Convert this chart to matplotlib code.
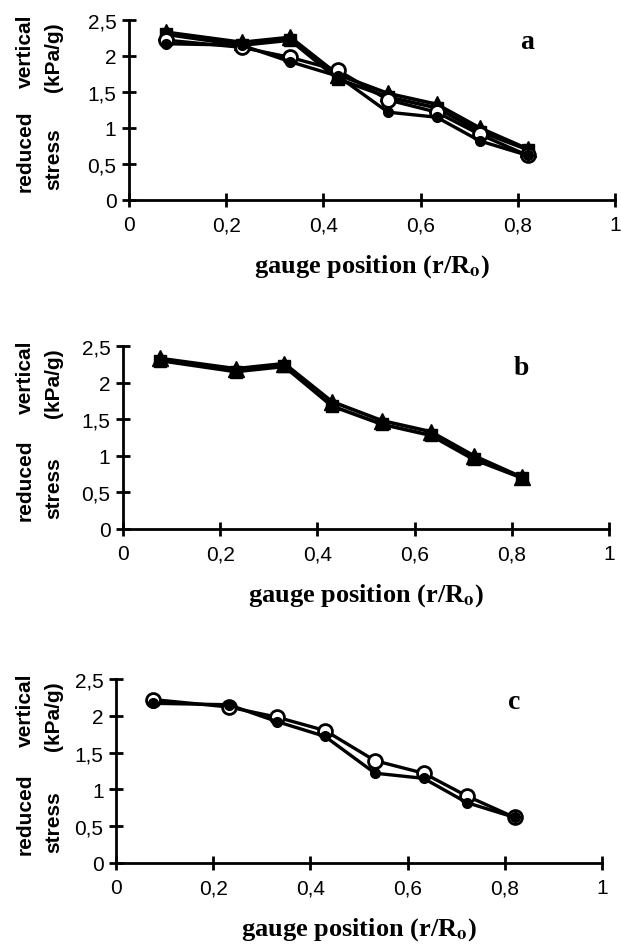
import matplotlib.pyplot as plt

# ゲージ位置 (r/Ro)
gauge_pos = [0.077, 0.232, 0.332, 0.430, 0.533, 0.633, 0.722, 0.820]

# 図b: 三角・四角の系列
stress_tri = [2.33, 2.19, 2.26, 1.74, 1.48, 1.33, 1.00, 0.71]
stress_sq = [2.30, 2.15, 2.22, 1.68, 1.43, 1.28, 0.95, 0.70]

# 図c: 白丸・黒丸の系列
stress_open = [2.22, 2.12, 1.98, 1.80, 1.39, 1.22, 0.91, 0.62]
stress_fill = [2.17, 2.15, 1.92, 1.72, 1.22, 1.15, 0.82, 0.62]

x_ticks = [0, 0.2, 0.4, 0.6, 0.8, 1.0]
x_labels = ["0", "0,2", "0,4", "0,6", "0,8", "1"]
y_ticks = [0, 0.5, 1.0, 1.5, 2.0, 2.5]
y_labels = ["0", "0,5", "1", "1,5", "2", "2,5"]

plt.rcParams["font.family"] = ["Liberation Sans", "DejaVu Sans"]
plt.rcParams["mathtext.fontset"] = "stix"

W, H = 621, 945
fig = plt.figure(figsize=(W / 100, H / 100), dpi=100)

# 各パネルの軸位置（ピクセル）: left, right, bottom(y=0), top(y=2.5)
panels = [
    ("a", 129, 615, 201, 21),
    ("b", 123, 609, 530, 347),
    ("c", 116, 602, 864, 680),
]


def draw_tri(ax):
    ax.plot(gauge_pos, stress_sq, color="black", lw=2.6, marker="s", ms=8,
            mfc="black", mec="black", zorder=3)
    ax.plot(gauge_pos, stress_tri, color="black", lw=2.6, marker="^", ms=11,
            mfc="black", mec="black", zorder=4)


def draw_circ(ax):
    ax.plot(gauge_pos, stress_open, color="black", lw=2.4, marker="o", ms=10,
            mfc="white", mec="black", mew=2.0, zorder=5)
    ax.plot(gauge_pos, stress_fill, color="black", lw=2.4, marker="o", ms=7,
            mfc="black", mec="black", zorder=6)


for name, left, right, y0, y25 in panels:
    ax = fig.add_axes([left / W, 1 - y0 / H, (right - left) / W, (y0 - y25) / H])

    if name in ("a", "b"):
        draw_tri(ax)
    if name in ("a", "c"):
        draw_circ(ax)

    ax.set_xlim(0, 1)
    ax.set_ylim(0, 2.5)
    ax.set_xticks(x_ticks)
    ax.set_xticklabels(x_labels)
    ax.set_yticks(y_ticks)
    ax.set_yticklabels(y_labels)
    for sp in ("top", "right"):
        ax.spines[sp].set_visible(False)
    for sp in ("left", "bottom"):
        ax.spines[sp].set_linewidth(2.0)
        ax.spines[sp].set_clip_on(False)
    ax.tick_params(direction="inout", length=10, width=2.0, labelsize=15,
                   pad=4)
    ax.tick_params(axis="x", pad=6)
    ax.patch.set_alpha(0)

    # パネル記号
    ax.text(0.82, 2.2, name, fontsize=20, fontweight="bold",
            family=["Liberation Serif"], ha="center", va="center")

    # x軸ラベル
    ax.text(0.5 * ((right - left) / W) + left / W, 1 - (y0 + 66) / H,
            r"gauge position (r/R$_{\mathbf{o}}$)", transform=fig.transFigure,
            fontsize=19, fontweight="bold", family=["Liberation Serif"],
            ha="center", va="center")

    # y軸ラベル（2列）
    for txt, xp, yp in [("reduced", 25, y0 - 50), ("vertical", 25, y25 + 30),
                        ("stress", 54, y0 - 42), ("(kPa/g)", 54, y25 + 36)]:
        fig.text(xp / W, 1 - yp / H, txt, rotation=90, fontsize=15,
                 fontweight="bold", ha="center", va="center")

fig.savefig("out.png", dpi=100)
